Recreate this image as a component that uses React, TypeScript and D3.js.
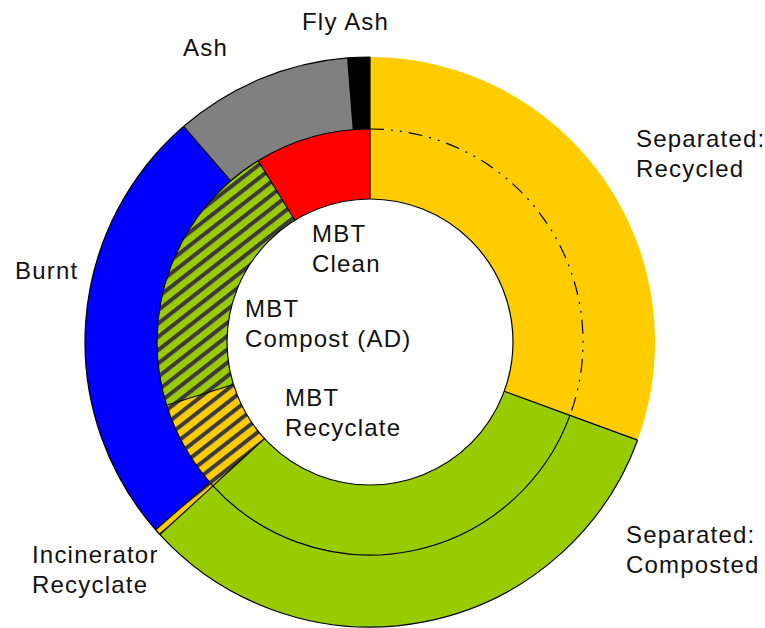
import React from "react";
import * as d3 from "d3";

// ---- Data (percent of total waste) ----
const outerCategories = [
  "Separated: Recycled",
  "Separated: Composted",
  "Incinerator Recyclate",
  "Burnt",
  "Ash",
  "Fly Ash",
];
const outerValues = [30.6, 32.6, 0.36, 25.1, 10.1, 1.25];

const innerCategories = [
  "Separated: Recycled",
  "Separated: Composted",
  "MBT Recyclate",
  "MBT Compost (AD)",
  "MBT Clean",
];
const innerValues = [30.6, 32.6, 7.0, 21.0, 8.8];

// label text lines
const labelLines: string[][] = [
  ["Fly Ash"],
  ["Ash"],
  ["Separated:", "Recycled"],
  ["Burnt"],
  ["MBT", "Clean"],
  ["MBT", "Compost (AD)"],
  ["MBT", "Recyclate"],
  ["Incinerator", "Recyclate"],
  ["Separated:", "Composted"],
];

// ---- Layout / style ----
const W = 765;
const H = 628;
const cx = 370;
const cy = 342;
const R0 = 143;
const R1 = 213;
const R2 = 285;

const fills: Record<string, string> = {
  "Separated: Recycled": "#FFCC00",
  "Separated: Composted": "#99CC00",
  "Incinerator Recyclate": "url(#hatchYellow)",
  Burnt: "#0000FF",
  Ash: "#808080",
  "Fly Ash": "#000000",
  "MBT Recyclate": "url(#hatchYellow)",
  "MBT Compost (AD)": "url(#hatchGreen)",
  "MBT Clean": "#FF0000",
};
const noOuterEdge = new Set(["Separated: Recycled"]);
const dashedRingBoundary = new Set(["Separated: Recycled"]);

const labelPos: [number, number][] = [
  [302, 30],
  [183, 56],
  [636, 147],
  [15, 279],
  [312, 242],
  [245, 317],
  [285, 406],
  [32, 563],
  [626, 543],
];
const lineGap = 30;

function arcPath(r: number, a0: number, a1: number) {
  const p = d3.path();
  p.arc(0, 0, r, a0 - Math.PI / 2, a1 - Math.PI / 2, false);
  return p.toString();
}

export default function App() {
  const pie = d3
    .pie<number>()
    .sort(null)
    .value((d) => d)
    .startAngle(0)
    .endAngle(2 * Math.PI);
  const outerArcs = pie(outerValues);
  const innerArcs = pie(innerValues);

  const outerArc = d3.arc<d3.PieArcDatum<number>>().innerRadius(R1).outerRadius(R2);
  const innerArc = d3.arc<d3.PieArcDatum<number>>().innerRadius(R0).outerRadius(R1);

  const radial = (a: number, r0: number, r1: number, key: string) => (
    <line
      key={key}
      x1={r0 * Math.sin(a)}
      y1={-r0 * Math.cos(a)}
      x2={r1 * Math.sin(a)}
      y2={-r1 * Math.cos(a)}
      stroke="#000"
      strokeWidth={1.2}
    />
  );

  return (
    <svg
      width={W}
      height={H}
      style={{ position: "absolute", left: 0, top: 0, background: "#fff" }}
    >
      <defs>
        <pattern
          id="hatchYellow"
          patternUnits="userSpaceOnUse"
          width={20}
          height={10.5}
          patternTransform="rotate(-38)"
        >
          <rect width={20} height={10.5} fill="#FFCC00" />
          <rect width={20} height={4} fill="#3a3a3a" />
        </pattern>
        <pattern
          id="hatchGreen"
          patternUnits="userSpaceOnUse"
          width={20}
          height={10.5}
          patternTransform="rotate(-38)"
        >
          <rect width={20} height={10.5} fill="#99CC00" />
          <rect width={20} height={4} fill="#3a3a3a" />
        </pattern>
      </defs>
      <g transform={`translate(${cx},${cy})`}>
        {outerArcs.map((d, i) => (
          <path key={"o" + i} d={outerArc(d) || ""} fill={fills[outerCategories[i]]} />
        ))}
        {innerArcs.map((d, i) => (
          <path key={"i" + i} d={innerArc(d) || ""} fill={fills[innerCategories[i]]} />
        ))}
        {/* hole outline */}
        <circle r={R0} fill="#fff" stroke="#000" strokeWidth={1.2} />
        {/* outer edges */}
        {outerArcs.map((d, i) =>
          noOuterEdge.has(outerCategories[i]) ? null : (
            <path
              key={"oe" + i}
              d={arcPath(R2, d.startAngle, d.endAngle)}
              fill="none"
              stroke="#000"
              strokeWidth={1.2}
            />
          )
        )}
        {/* ring boundary */}
        {innerArcs.map((d, i) => (
          <path
            key={"rb" + i}
            d={arcPath(R1, d.startAngle, d.endAngle)}
            fill="none"
            stroke="#000"
            strokeWidth={1.2}
            strokeDasharray={dashedRingBoundary.has(innerCategories[i]) ? "14,7,2,7,2,7" : undefined}
          />
        ))}
        {/* radial boundaries */}
        {outerArcs.map((d, i) => radial(d.startAngle, R1, R2, "or" + i))}
        {innerArcs.map((d, i) => radial(d.startAngle, R0, R1, "ir" + i))}
      </g>
      <g
        fontFamily="'Liberation Sans', Arial, sans-serif"
        fontSize={24}
        letterSpacing={1.2}
        fill="#111"
      >
        {labelLines.map((lines, i) => (
          <text key={"l" + i} x={labelPos[i][0]} y={labelPos[i][1]}>
            {lines.map((t, j) => (
              <tspan key={j} x={labelPos[i][0]} y={labelPos[i][1] + j * lineGap}>
                {t}
              </tspan>
            ))}
          </text>
        ))}
      </g>
    </svg>
  );
}
